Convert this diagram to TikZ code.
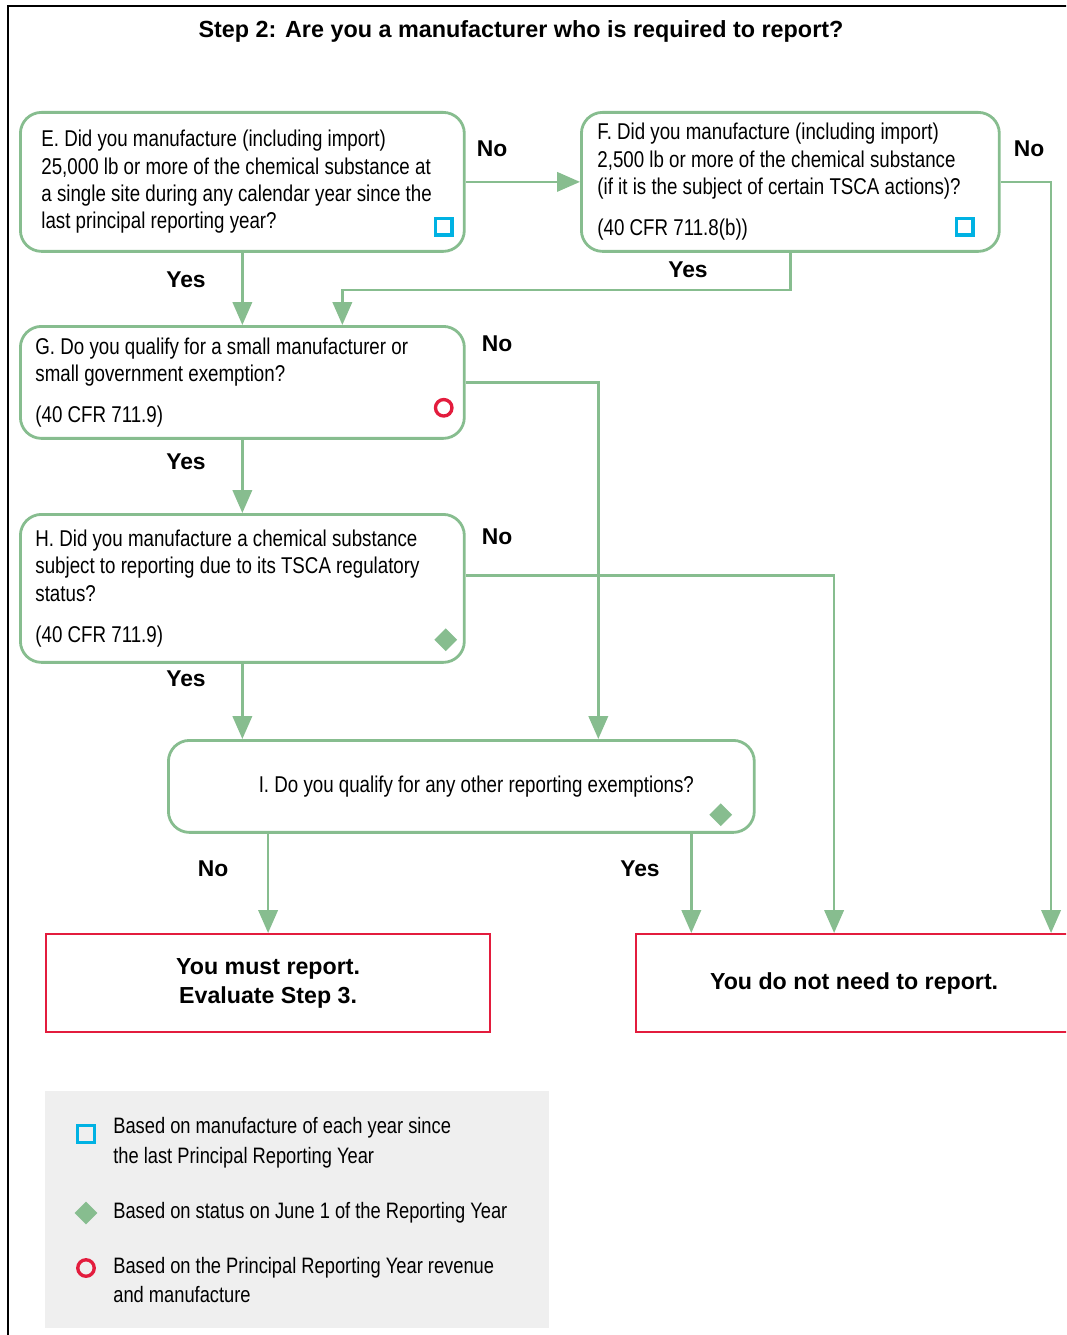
\documentclass[tikz,border=0pt]{standalone}
\usepackage{fontspec}
\setmainfont{Liberation Sans}
\newfontfamily\narrowfont{Liberation Sans}[FakeStretch=0.82]
\usetikzlibrary{positioning,calc,shapes.geometric,arrows.meta}
\definecolor{flowgreen}{RGB}{135,189,143}
\definecolor{stopred}{RGB}{227,28,61}
\definecolor{markcyan}{RGB}{0,178,227}
\definecolor{keygray}{RGB}{239,239,239}

\tikzset{
  question/.style={draw=flowgreen, line width=1.6pt, rounded corners=12pt, anchor=north west,
    inner sep=0pt, align=flush left, font=\narrowfont\fontsize{13}{15.6}\selectfont},
  verdict/.style={draw=stopred, line width=1.3pt, anchor=north west, inner sep=0pt, align=center,
    minimum width=8.88cm, minimum height=1.96cm, font=\bfseries\fontsize{13.2}{16.5}\selectfont},
  flow/.style={draw=flowgreen, line width=1.4pt, -{Triangle[length=13pt,width=11pt]}},
  answer/.style={font=\bfseries\fontsize{13}{15}\selectfont},
  boxmark/.style={draw=markcyan, line width=1.9pt, minimum size=0.33cm, inner sep=0pt},
  ringmark/.style={circle, draw=stopred, line width=1.9pt, minimum size=0.33cm, inner sep=0pt},
  gemmark/.style={diamond, fill=flowgreen, minimum size=0.46cm, inner sep=0pt},
  keytext/.style={anchor=west, inner sep=0pt, align=flush left, font=\narrowfont\fontsize{12.7}{16.8}\selectfont}
}

\begin{document}
\begin{tikzpicture}[x=0.02cm, y=-0.02cm]
  \path[use as bounding box, clip] (0,0) rectangle (1066,1335);
  \draw[line width=1.2pt] (8,1340) -- (8,6) -- (1070,6);

  \node[font=\bfseries\fontsize{13.3}{16}\selectfont] (title) at (521,31)
    {Step 2: Are you a manufacturer who is required to report?};

  % questions
  \node[question, minimum width=8.88cm, minimum height=2.78cm, text width=8.64cm] (E) at (19,111)
    {\leftskip=0.3cm E. Did you manufacture (including import)\\
     25,000 lb or more of the chemical substance at\\
     a single site during any calendar year since the\\
     last principal reporting year?\par};
  \node[question, minimum width=8.36cm, minimum height=2.78cm, text width=8.12cm] (F) at (580,111)
    {\leftskip=0.2cm F. Did you manufacture (including import)\\
     2,500 lb or more of the chemical substance\\
     (if it is the subject of certain TSCA actions)?\\[7.7pt]
     (40 CFR 711.8(b))\par};
  \node[question, minimum width=8.88cm, minimum height=2.24cm, text width=8.64cm] (G) at (19,325)
    {\leftskip=0.18cm G. Do you qualify for a small manufacturer or\\
     small government exemption?\\[7.7pt]
     (40 CFR 711.9)\par};
  \node[question, minimum width=8.88cm, minimum height=2.96cm, text width=8.64cm] (H) at (19,513)
    {\leftskip=0.18cm H. Did you manufacture a chemical substance\\
     subject to reporting due to its TSCA regulatory\\
     status?\\[7.7pt]
     (40 CFR 711.9)\par};
  \node[question, minimum width=11.72cm, minimum height=1.84cm, align=center] (I) at (167,739)
    {\hspace*{0.6cm}I. Do you qualify for any other reporting exemptions?};

  % outcomes
  \node[verdict] (must) at (45,933) {You must report.\\Evaluate Step 3.};
  \node[verdict, minimum width=8.72cm] (nomust) at (635,933) {You do not need to report.};

  % markers
  \node[boxmark] (Emark) at ($(E.south east)+(-22,-26)$) {};
  \node[boxmark] (Fmark) at ($(F.south east)+(-36,-26)$) {};
  \node[ringmark] (Gmark) at ($(G.south east)+(-22,-32)$) {};
  \node[gemmark] (Hmark) at ($(H.south east)+(-20,-24)$) {};
  \node[gemmark] (Imark) at ($(I.south east)+(-35,-19)$) {};

  % connectors
  \draw[flow] (E.east) -- (F.west);
  \draw[flow] (E.south) -- (G.north);
  \draw[flow] (F.south) -- ++(0,37) -| ([xshift=2cm]G.north);
  \draw[flow] (F.east) -| ([xshift=3.94cm]nomust.north);
  \draw[flow] (G.south) -- (H.north);
  \draw[flow] (G.east) -| ([xshift=2.74cm]I.north);
  \draw[flow] (H.south) -- (H.south |- I.north);
  \draw[flow] ([yshift=0.26cm]H.east) -| ([xshift=-0.4cm]nomust.north);
  \draw[flow] (I.south -| must.north) -- (must.north);
  \draw[flow] ([xshift=4.6cm]I.south) -- ([xshift=4.6cm]I.south |- nomust.north);

  % answers
  \node[answer] (Eno) at (492,149) {No};
  \node[answer] (Fno) at (1029,149) {No};
  \node[answer] (Eyes) at (186,280) {Yes};
  \node[answer] (Fyes) at (688,270) {Yes};
  \node[answer] (Gno) at (497,344) {No};
  \node[answer] (Gyes) at (186,462) {Yes};
  \node[answer] (Hno) at (497,537) {No};
  \node[answer] (Hyes) at (186,679) {Yes};
  \node[answer] (Ino) at (213,869) {No};
  \node[answer] (Iyes) at (640,869) {Yes};

  % legend
  \node[fill=keygray, anchor=north west, inner sep=0pt, minimum width=10.08cm, minimum height=4.74cm] (key) at (45,1091) {};
  \node[boxmark] (keyA) at (86,1134) {};
  \node[gemmark] (keyB) at (86,1213) {};
  \node[ringmark] (keyC) at (86,1268) {};
  \node[keytext] (keyAtext) at (113,1142.5) {Based on manufacture of each year since\\the last Principal Reporting Year};
  \node[keytext] (keyBtext) at (113,1213) {Based on status on June 1 of the Reporting Year};
  \node[keytext] (keyCtext) at (113,1280) {Based on the Principal Reporting Year revenue\\and manufacture};
\end{tikzpicture}
\end{document}
